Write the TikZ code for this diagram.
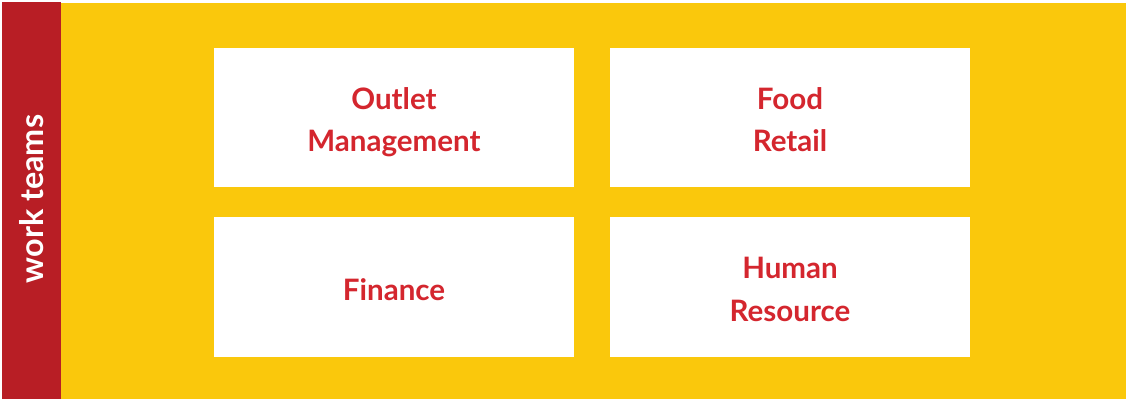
\documentclass[tikz,border=0pt]{standalone}
\usepackage{fontspec}
\setmainfont{Lato}
\definecolor{barred}{HTML}{B81E25}
\definecolor{teamyellow}{HTML}{FAC80C}
\definecolor{labelred}{HTML}{D4262E}
\tikzset{
	team/.style={fill=white, minimum width=256pt, minimum height=98.9pt, inner sep=0pt},
	teamname/.style={align=center, text=labelred, inner sep=0pt, yshift=-3.6pt,
		font=\bfseries\fontsize{21}{30}\selectfont},
}
\newcommand{\gdepth}{\vphantom{g}}
\begin{document}
\begin{tikzpicture}[x=0.025cm, y=-0.025cm]
	\useasboundingbox (0,0) rectangle (1126,399);
	\fill[white] (0,0) rectangle (1126,399);
	\fill[teamyellow] (61,3) rectangle (1126,399);
	\fill[barred] (2,2) rectangle (61,399);
	\node[rotate=90, text=white, font=\bfseries\fontsize{23}{26}\selectfont] (bar) at (32,199) {work teams};
	% the four team boxes
	\node[team] (outlet) at (394,117.5) {};
	\node[team] (food) at (790,117.5) {};
	\node[team] (finance) at (394,287) {};
	\node[team] (human) at (790,287) {};
	\node[teamname] (outlet-name) at (outlet.center) {Outlet\\Management};
	\node[teamname] (food-name) at (food.center) {Food\\Retail\gdepth};
	\node[teamname] (finance-name) at (finance.center) {Finance\gdepth};
	\node[teamname] (human-name) at (human.center) {Human\\Resource\gdepth};
\end{tikzpicture}
\end{document}
